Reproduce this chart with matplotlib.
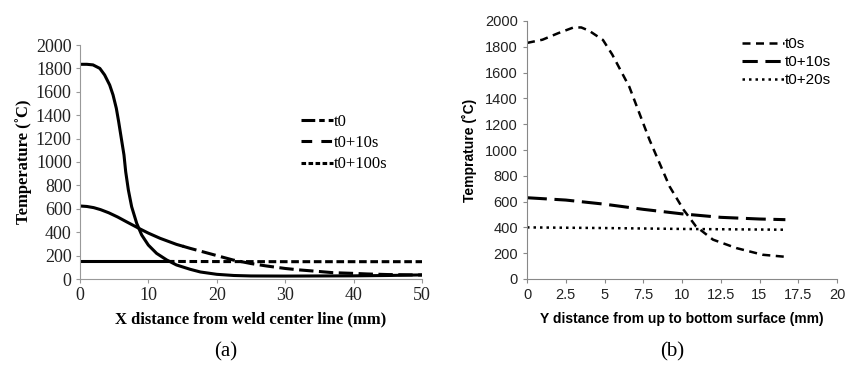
import matplotlib
matplotlib.use("Agg")
import matplotlib.pyplot as plt
from matplotlib.lines import Line2D
import numpy as np

# ---- Panel (a) data ----
xa_t0 = [0, 1, 1.9, 2.9, 3.6, 4.34, 4.83, 5.31, 5.65, 6.04, 6.43, 6.68, 7.07, 7.55, 8.29, 9.02,
         9.99, 11.2, 12.7, 14.1, 16.1, 17.6, 20, 22.5, 25, 30, 35, 40, 45, 50]
ya_t0 = [1835, 1835, 1830, 1800, 1744, 1658, 1573, 1459, 1345, 1202, 1060, 917, 761, 618, 476, 376,
         290, 219, 162, 120, 83, 60, 40, 30, 26, 25, 26, 27, 30, 35]
xa_t10 = [0, 1, 2, 3, 4.2, 5.5, 6.83, 8.77, 10, 11.7, 14.1, 16.1, 18, 20, 22.4, 25, 27.3, 30, 32.2,
          35, 37, 40, 42, 45, 50]
ya_t10 = [624, 620, 610, 593, 566, 530, 488, 428, 392, 348, 296, 262, 232, 200, 162, 132, 111, 90, 77,
          64, 54, 48, 43, 38, 34]
xa_t100 = [0, 10, 20, 30, 40, 50]
ya_t100 = [150, 150, 149, 148, 148, 148]
solid_until_t10 = 15
solid_until_t100 = 12.7
labels_a = ["t0", "t0+10s", "t0+100s"]

# ---- Panel (b) data ----
xb = [0, 1, 2, 3, 3.5, 4, 4.9, 5.5, 6.6, 7.9, 9.2, 10.1, 10.9, 12, 13.5, 15.2, 16.67]
yb_t0 = [1830, 1855, 1905, 1950, 1950, 1925, 1853, 1740, 1490, 1080, 717, 537, 408, 305, 240, 188, 172]
xb2 = [0, 2.5, 5, 7.5, 10, 12.5, 15, 16.67]
yb_t10 = [630, 612, 580, 540, 505, 478, 465, 460]
xb3 = [0, 5, 10, 16.67]
yb_t20 = [400, 395, 388, 382]
labels_b = ["t0s", "t0+10s", "t0+20s"]

fig = plt.figure(figsize=(8.59, 3.65), dpi=100)

serif = "Liberation Serif"
sans = "Liberation Sans"

# ---------------- Panel (a) ----------------
axa = fig.add_axes([80/859, 1-279/365, 342/859, 234/365])
lw = 2.2
d10 = (4.7, 1.8)
d100 = (2.5, 1.2)
axa.plot(xa_t0, ya_t0, color="black", lw=lw)
xt = np.array(xa_t10); yt = np.array(ya_t10)
m = xt <= solid_until_t10
axa.plot(np.r_[xt[m], solid_until_t10], np.r_[yt[m], np.interp(solid_until_t10, xt, yt)], color="black", lw=lw)
axa.plot(np.r_[solid_until_t10, xt[xt > solid_until_t10]], np.r_[np.interp(solid_until_t10, xt, yt), yt[xt > solid_until_t10]],
         color="black", lw=lw, dashes=d10)
xh = np.array(xa_t100); yh = np.array(ya_t100)
axa.plot([0, solid_until_t100], [yh[0], yh[0]], color="black", lw=lw)
axa.plot([solid_until_t100] + list(xh[xh > solid_until_t100]),
         [yh[0]] + list(yh[xh > solid_until_t100]), color="black", lw=lw, dashes=d100)
axa.set_xlim(0, 50)
axa.set_ylim(0, 2000)
axa.set_xticks(range(0, 51, 10))
axa.set_yticks(range(0, 2001, 200))
for s in ["top", "right"]:
    axa.spines[s].set_visible(False)
for s in ["left", "bottom"]:
    axa.spines[s].set_color("#999999")
axa.tick_params(direction="out", length=3, color="#999999", labelsize=13, pad=3)
for t in axa.get_xticklabels() + axa.get_yticklabels():
    t.set_fontfamily(serif)
    t.set_color("#222222")
axa.set_xlabel("X distance from weld center line (mm)", fontfamily=serif, fontweight="bold", fontsize=12, labelpad=5)
axa.set_ylabel("Temperature (˚C)", fontfamily=serif, fontweight="bold", fontsize=12, labelpad=3)
ha = [Line2D([], [], color="black", lw=lw, dashes=(4.5, 1.3, 1.8, 1.3)),
      Line2D([], [], color="black", lw=lw, dashes=(3.5, 3)),
      Line2D([], [], color="black", lw=lw, dashes=(1.5, 0.8))]
axa.legend(ha, labels_a, loc="upper left", bbox_to_anchor=(0.602, 0.77), frameon=False,
           prop={"family": serif, "size": 12}, handlelength=1.9, handletextpad=0.1, labelspacing=0.32)

# ---------------- Panel (b) ----------------
axb = fig.add_axes([527/859, 1-279/365, 310/859, 258/365])
db0 = (3.2, 2.2)
db10 = (6.5, 2.5)
db20 = (1, 1.6)
axb.plot(xb, yb_t0, color="black", lw=1.8, dashes=db0)
axb.plot(xb2, yb_t10, color="black", lw=2.2, dashes=db10)
axb.plot(xb3, yb_t20, color="black", lw=1.8, dashes=db20)
axb.set_xlim(0, 20)
axb.set_ylim(0, 2000)
axb.set_xticks(np.arange(0, 20.1, 2.5))
axb.set_xticklabels(["0", "2.5", "5", "7.5", "10", "12.5", "15", "17.5", "20"])
axb.set_yticks(range(0, 2001, 200))
for s in ["top", "right"]:
    axb.spines[s].set_visible(False)
for s in ["left", "bottom"]:
    axb.spines[s].set_color("#888888")
axb.tick_params(direction="out", length=3, color="#888888", labelsize=10.5)
for t in axb.get_xticklabels() + axb.get_yticklabels():
    t.set_fontfamily(sans)
    t.set_color("#222222")
axb.set_xlabel("Y distance from up to bottom surface (mm)", fontfamily=sans, fontweight="bold", fontsize=10, labelpad=7)
axb.set_ylabel("Temprature (˚C)", fontfamily=sans, fontweight="bold", fontsize=10, labelpad=6)
hb = [Line2D([], [], color="black", lw=1.8, dashes=db0),
      Line2D([], [], color="black", lw=2.2, dashes=(5, 2.5)),
      Line2D([], [], color="black", lw=1.8, dashes=db20)]
axb.legend(hb, labels_b, loc="upper left", bbox_to_anchor=(0.65, 0.99), frameon=False,
           prop={"family": sans, "size": 11}, handlelength=2.7, handletextpad=0.1, labelspacing=0.25)

fig.text(226/859, 1-352/365, "(a)", fontfamily=serif, fontsize=15, ha="center", va="center")
fig.text(672/859, 1-352/365, "(b)", fontfamily=serif, fontsize=15, ha="center", va="center")

fig.savefig("out.png", dpi=100)
